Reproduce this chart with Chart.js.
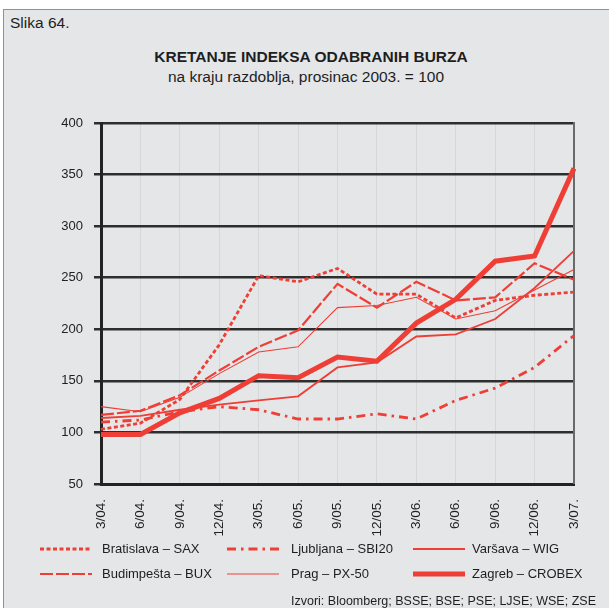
<!DOCTYPE html>
<html>
<head>
<meta charset="utf-8">
<script src="https://cdn.jsdelivr.net/npm/chart.js@4/dist/chart.umd.min.js"></script>
<style>
  html, body { margin: 0; padding: 0; background: #ffffff; }
  #page { position: relative; width: 609px; height: 608px; overflow: hidden;
          font-family: "Liberation Sans", Arial, sans-serif; color: #1e1e1e; }
  #panel { position: absolute; left: 3px; top: 9px; width: 640px; height: 640px;
           background: #e5e6e8; border: 1.5px solid #ef6a62; box-sizing: border-box; }
  #chart { position: absolute; left: 0; top: 0; }
  .t { position: absolute; white-space: nowrap; line-height: 1; }
  .sample { position: absolute; }
</style>
</head>
<body>
<div id="page">
  <div id="panel"></div>
  <div class="t" style="left:10px; top:15px; font-size:15.5px;">Slika 64.</div>
  <div class="t" style="left:0; width:622px; text-align:center; top:49px; font-size:15.5px; font-weight:bold;">KRETANJE INDEKSA ODABRANIH BURZA</div>
  <div class="t" style="left:0; width:612px; text-align:center; top:69px; font-size:15.5px;">na kraju razdoblja, prosinac 2003. = 100</div>
  <canvas id="chart" width="609" height="608" style="width:609px;height:608px;"></canvas>
  <div id="legend"></div>
  <div class="t" style="left:291px; top:595px; font-size:12.5px;">Izvori: Bloomberg; BSSE; BSE; PSE; LJSE; WSE; ZSE</div>
</div>
<script>
// Quarter-end dates
const categories = ['3/04.', '6/04.', '9/04.', '12/04.', '3/05.', '6/05.', '9/05.',
                    '12/05.', '3/06.', '6/06.', '9/06.', '12/06.', '3/07.'];

// Index values, December 2003 = 100
const bratislava = [103, 109, 132, 185, 252, 246, 259, 234, 234, 211, 228, 233, 236];
const ljubljana  = [110, 112, 120, 125, 122, 113, 113, 118, 113, 131, 143, 163, 194];
const varsava    = [114, 116, 122, 127, 131, 135, 163, 168, 193, 195, 210, 240, 276];
const budimpesta = [117, 121, 136, 160, 183, 199, 244, 221, 246, 228, 231, 264, 248];
const prag       = [125, 120, 134, 157, 178, 183, 221, 223, 231, 210, 218, 238, 258];
const zagreb     = [98, 98, 119, 133, 155, 153, 173, 169, 206, 229, 266, 271, 356];

// Value axis ticks
const yTicks = [50, 100, 150, 200, 250, 300, 350, 400];

const RED = '#ee3e35';
const FONT = '"Liberation Sans", Arial, sans-serif';

const series = [
  { label: 'Bratislava – SAX',  data: bratislava, width: 2.8, dash: [4, 2.5] },
  { label: 'Ljubljana – SBI20', data: ljubljana,  width: 2.8, dash: [9, 5, 2.5, 5] },
  { label: 'Varšava – WIG',     data: varsava,    width: 1.8, dash: [] },
  { label: 'Budimpešta – BUX',  data: budimpesta, width: 2.2, dash: [13, 3] },
  { label: 'Prag – PX-50',      data: prag,       width: 1.1, dash: [] },
  { label: 'Zagreb – CROBEX',   data: zagreb,     width: 5,   dash: [] }
];

// Right-hand frame line of the plot area
const rightFrame = {
  id: 'rightFrame',
  beforeDatasetsDraw(chart) {
    const a = chart.chartArea, c = chart.ctx;
    c.save();
    c.strokeStyle = '#6a6a6a';
    c.lineWidth = 2;
    c.beginPath();
    c.moveTo(a.right, a.top - 1);
    c.lineTo(a.right, a.bottom);
    c.stroke();
    c.restore();
  }
};

new Chart(document.getElementById('chart'), {
  type: 'line',
  data: {
    labels: categories,
    datasets: series.map(s => ({
      label: s.label,
      data: s.data,
      borderColor: RED,
      backgroundColor: RED,
      borderWidth: s.width,
      borderDash: s.dash,
      pointRadius: 0,
      tension: 0,
      fill: false
    }))
  },
  options: {
    responsive: false,
    animation: false,
    layout: { padding: { left: 41, right: 35, top: 123, bottom: 0 } },
    plugins: { legend: { display: false }, tooltip: { enabled: false } },
    scales: {
      x: {
        offset: false,
        afterFit(s) { s.height = 124; },
        grid: { color: '#d6d7d9', lineWidth: 1, drawTicks: false },
        border: { color: '#232323', width: 3 },
        ticks: { font: { family: FONT, size: 13.5 }, color: '#222', padding: 15,
                 minRotation: 90, maxRotation: 90, autoSkip: false }
      },
      y: {
        min: 50, max: 400,
        afterFit(s) { s.width = 60; },
        afterBuildTicks(s) { s.ticks = yTicks.map(v => ({ value: v })); },
        grid: { color: '#2e2e2e', lineWidth: 2.5, tickLength: 7 },
        border: { color: '#232323', width: 3 },
        ticks: { font: { family: FONT, size: 13 }, color: '#222', padding: 11 }
      }
    }
  },
  plugins: [rightFrame]
});

// Legend: two rows of three entries
const legend = document.getElementById('legend');
const cols = [ { sx: 40, tx: 102 }, { sx: 227, tx: 291 }, { sx: 413, tx: 472 } ];
const rows = [549, 574];
series.forEach((s, i) => {
  const col = cols[i % 3], row = rows[Math.floor(i / 3)];
  const svg = document.createElementNS('http://www.w3.org/2000/svg', 'svg');
  svg.setAttribute('class', 'sample');
  svg.setAttribute('width', '54');
  svg.setAttribute('height', '10');
  svg.style.left = col.sx + 'px';
  svg.style.top = (row - 5) + 'px';
  const ln = document.createElementNS('http://www.w3.org/2000/svg', 'line');
  ln.setAttribute('x1', '0'); ln.setAttribute('x2', '52');
  ln.setAttribute('y1', '5'); ln.setAttribute('y2', '5');
  ln.setAttribute('stroke', RED);
  ln.setAttribute('stroke-width', String(s.width));
  if (s.dash.length) ln.setAttribute('stroke-dasharray', s.dash.join(' '));
  svg.appendChild(ln);
  legend.appendChild(svg);
  const t = document.createElement('div');
  t.className = 't';
  t.style.left = col.tx + 'px';
  t.style.top = (row - 7) + 'px';
  t.style.fontSize = '13px';
  t.textContent = s.label;
  legend.appendChild(t);
});
</script>
</body>
</html>
